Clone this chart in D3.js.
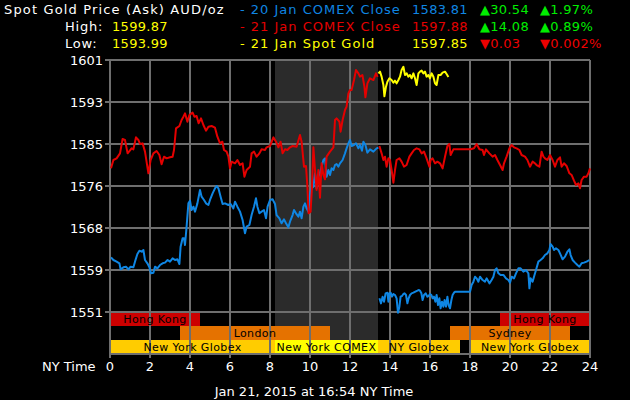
<!DOCTYPE html>
<html><head><meta charset="utf-8">
<script src="https://cdn.jsdelivr.net/npm/d3@7"></script>
<style>
html,body{margin:0;padding:0;background:#000;}
svg{display:block;font-family:"DejaVu Sans",Verdana,sans-serif;}
</style></head>
<body>
<svg id="chart" width="630" height="400"></svg>
<script>
// ---------- DATA ----------
const xTicks = [0,2,4,6,8,10,12,14,16,18,20,22,24];
const yTop = 1601.22, yStepVal = 8.35, yTickCount = 7;
const comexWindow = [8.25, 13.4];

const headerTitle = "Spot Gold Price (Ask) AUD/oz";
const highLow = [["High:", "1599.87"], ["Low:", "1593.99"]];
const legendNames = ["- 20 Jan COMEX Close", "- 21 Jan COMEX Close", "- 21 Jan Spot Gold"];
const legendPrices = ["1583.81", "1597.88", "1597.85"];
const legendChanges = ["30.54", "14.08", "0.03"];
const legendPcts = ["1.97%", "0.89%", "0.002%"];
const legendUp = [true, true, false];

const sessionNames = ["Hong Kong","London","New York Globex","New York COMEX","NY Globex","Sydney","Hong Kong","New York Globex"];
const sessionRows  = [0,1,2,2,2,1,0,2];
const sessionStart = [0,3.5,0,8.25,13.4,17,19.5,18];
const sessionEnd   = [4.5,11,8.25,13.4,17.5,23,24,24];

// 20 Jan COMEX Close (blue), segment before and after the break
const blueA = [[0.05,1561.99],[0.17,1561.46],[0.33,1561.13],[0.47,1560.80],[0.53,1559.60],[0.67,1560.00],[0.80,1560.13],[0.92,1559.60],[1.03,1560.13],[1.17,1560.00],[1.25,1561.13],[1.37,1562.65],[1.47,1563.31],[1.58,1563.11],[1.67,1563.45],[1.75,1561.46],[1.87,1560.80],[1.97,1560.00],[2.05,1558.81],[2.17,1558.94],[2.25,1560.13],[2.37,1559.80],[2.50,1560.46],[2.63,1560.80],[2.75,1560.93],[2.88,1561.46],[3.00,1561.13],[3.13,1561.79],[3.25,1561.46],[3.37,1561.59],[3.47,1560.66],[3.53,1564.11],[3.63,1565.77],[3.70,1565.77],[3.75,1564.44],[3.83,1568.08],[3.92,1572.72],[4.00,1573.25],[4.08,1571.40],[4.17,1572.06],[4.25,1571.07],[4.37,1572.72],[4.50,1575.37],[4.58,1574.05],[4.70,1573.39],[4.80,1572.72],[4.92,1572.39],[5.00,1573.39],[5.13,1574.71],[5.25,1575.71],[5.33,1576.17],[5.42,1575.71],[5.53,1574.05],[5.63,1572.59],[5.75,1572.72],[5.92,1572.39],[6.03,1572.59],[6.17,1571.73],[6.25,1573.06],[6.37,1572.06],[6.50,1571.07],[6.63,1569.41],[6.75,1566.76],[6.83,1568.08],[6.97,1568.42],[7.08,1570.40],[7.20,1572.06],[7.30,1573.72],[7.37,1572.06],[7.47,1570.74],[7.58,1571.07],[7.70,1571.40],[7.80,1569.74],[7.88,1572.06],[8.00,1573.39],[8.13,1573.52],[8.25,1572.59],[8.33,1570.40],[8.47,1569.74],[8.58,1568.75],[8.70,1569.54],[8.80,1568.75],[8.92,1567.95],[9.00,1569.08],[9.13,1570.40],[9.20,1571.40],[9.30,1570.74],[9.42,1570.07],[9.50,1571.07],[9.58,1569.74],[9.67,1572.06],[9.75,1572.72],[9.83,1571.73],[9.92,1571.07],[10.00,1574.71],[10.08,1575.71],[10.17,1576.04],[10.25,1578.69],[10.33,1575.71],[10.42,1578.03],[10.50,1578.69],[10.58,1580.01],[10.67,1581.34],[10.75,1581.67],[10.83,1578.03],[10.92,1579.35],[11.00,1578.36],[11.08,1579.68],[11.17,1579.35],[11.25,1580.34],[11.33,1580.54],[11.42,1580.01],[11.50,1580.68],[11.63,1581.34],[11.75,1582.66],[11.83,1583.66],[11.92,1584.65],[12.00,1585.32],[12.08,1584.12],[12.20,1584.32],[12.30,1584.65],[12.42,1583.66],[12.50,1584.32],[12.60,1583.19],[12.67,1584.98],[12.77,1584.32],[12.87,1582.80],[13.00,1583.46],[13.17,1583.00],[13.33,1583.66],[13.42,1583.81]];
const blueB = [[13.47,1553.84],[13.55,1552.84],[13.63,1554.17],[13.70,1553.17],[13.78,1554.83],[13.87,1554.96],[13.92,1553.17],[13.97,1554.83],[14.03,1554.96],[14.10,1554.17],[14.17,1554.70],[14.25,1554.50],[14.33,1553.84],[14.40,1550.99],[14.47,1552.18],[14.53,1554.17],[14.60,1554.30],[14.67,1554.70],[14.73,1554.83],[14.80,1554.50],[14.87,1552.84],[14.93,1553.84],[15.00,1554.50],[15.08,1554.83],[15.17,1554.96],[15.27,1555.16],[15.37,1555.36],[15.43,1555.49],[15.50,1555.36],[15.57,1554.83],[15.63,1553.51],[15.70,1554.50],[15.78,1554.83],[15.87,1554.17],[15.93,1554.30],[16.00,1554.70],[16.07,1554.50],[16.13,1553.84],[16.20,1554.17],[16.27,1553.17],[16.33,1554.50],[16.40,1552.51],[16.47,1553.84],[16.53,1551.85],[16.60,1553.17],[16.67,1552.18],[16.73,1553.51],[16.80,1552.18],[16.87,1554.17],[16.93,1552.51],[17.00,1551.85],[17.07,1553.51],[17.13,1554.50],[17.20,1554.96],[17.27,1555.16],[18.00,1555.16],[18.08,1556.49],[18.17,1557.15],[18.25,1558.14],[18.33,1557.81],[18.42,1557.15],[18.50,1558.14],[18.63,1557.48],[18.75,1557.15],[18.83,1557.81],[18.97,1556.82],[19.08,1557.48],[19.17,1558.14],[19.25,1559.47],[19.33,1559.80],[19.42,1558.81],[19.53,1558.48],[19.67,1558.48],[19.80,1557.81],[19.92,1557.48],[20.00,1556.95],[20.08,1558.14],[20.20,1557.81],[20.30,1558.81],[20.42,1559.80],[20.53,1559.80],[20.67,1559.14],[20.80,1559.47],[20.92,1558.81],[20.97,1555.83],[21.03,1557.81],[21.13,1557.15],[21.20,1558.14],[21.30,1559.47],[21.42,1561.13],[21.53,1561.46],[21.63,1561.79],[21.75,1562.45],[21.87,1562.78],[21.97,1563.45],[22.03,1564.64],[22.13,1564.11],[22.20,1563.45],[22.30,1563.78],[22.42,1563.45],[22.50,1562.78],[22.63,1561.59],[22.75,1562.12],[22.87,1563.11],[22.97,1563.58],[23.03,1562.45],[23.13,1561.46],[23.25,1560.93],[23.37,1560.46],[23.47,1560.13],[23.58,1560.80],[23.70,1560.93],[23.83,1561.13],[23.97,1561.46]];

// 21 Jan COMEX Close (red)
const redA = [[0.05,1579.68],[0.17,1581.34],[0.33,1581.67],[0.50,1582.66],[0.63,1585.51],[0.75,1585.32],[0.88,1582.66],[1.08,1583.66],[1.17,1583.46],[1.30,1585.85],[1.42,1585.32],[1.50,1584.52],[1.63,1584.65],[1.75,1583.00],[1.92,1578.69],[2.03,1581.34],[2.17,1582.66],[2.33,1583.13],[2.47,1582.33],[2.58,1580.48],[2.70,1582.00],[2.83,1581.67],[3.00,1581.87],[3.13,1582.00],[3.20,1583.33],[3.30,1587.63],[3.47,1588.10],[3.58,1589.29],[3.67,1589.95],[3.75,1590.62],[3.87,1588.96],[3.97,1590.29],[4.13,1590.75],[4.22,1589.95],[4.33,1590.09],[4.43,1588.63],[4.55,1589.62],[4.67,1588.30],[4.80,1587.17],[4.92,1587.97],[5.08,1588.10],[5.25,1587.77],[5.37,1585.98],[5.50,1584.65],[5.62,1584.98],[5.70,1583.33],[5.83,1583.00],[5.92,1582.00],[6.00,1579.68],[6.08,1581.01],[6.25,1580.68],[6.37,1581.34],[6.50,1580.34],[6.63,1580.68],[6.72,1578.03],[6.83,1579.35],[7.00,1580.01],[7.08,1582.66],[7.20,1583.00],[7.33,1582.00],[7.47,1582.66],[7.58,1583.46],[7.75,1583.33],[7.83,1583.86],[8.00,1584.12],[8.17,1585.85],[8.30,1584.98],[8.42,1583.86],[8.53,1584.98],[8.63,1582.66],[8.75,1583.46],[8.87,1583.33],[9.00,1583.86],[9.13,1584.12],[9.33,1583.99],[9.50,1586.31],[9.58,1584.98],[9.70,1580.01],[9.80,1580.15],[9.87,1576.04],[9.93,1570.74],[10.03,1571.07],[10.10,1576.04],[10.17,1583.86],[10.25,1579.35],[10.33,1575.37],[10.42,1579.35],[10.50,1573.85],[10.58,1580.68],[10.67,1578.36],[10.75,1577.50],[10.83,1582.00],[11.00,1583.00],[11.17,1583.86],[11.25,1589.29],[11.33,1589.62],[11.47,1588.96],[11.53,1586.97],[11.63,1589.29],[11.75,1591.28],[11.83,1591.94],[11.92,1594.59],[12.00,1595.26],[12.08,1595.26],[12.20,1597.24],[12.30,1599.23],[12.42,1598.57],[12.50,1597.91],[12.62,1598.24],[12.72,1595.92],[12.77,1593.80],[12.87,1596.58],[13.00,1597.58],[13.17,1597.24],[13.30,1598.57],[13.38,1597.88]];
const redB = [[13.47,1584.12],[13.58,1582.66],[13.67,1581.34],[13.75,1582.00],[13.83,1580.01],[13.92,1581.67],[14.00,1581.34],[14.08,1579.35],[14.17,1576.83],[14.25,1579.35],[14.33,1581.34],[14.47,1581.67],[14.58,1581.01],[14.70,1580.01],[14.83,1580.34],[14.97,1582.00],[15.08,1582.66],[15.20,1583.33],[15.33,1583.66],[15.47,1583.46],[15.58,1582.66],[15.70,1583.00],[15.83,1581.67],[15.97,1580.01],[16.03,1581.34],[16.13,1581.67],[16.25,1580.68],[16.37,1581.01],[16.50,1580.68],[16.63,1579.68],[16.75,1582.00],[16.87,1584.12],[16.97,1584.52],[17.03,1582.33],[17.17,1583.46],[17.58,1583.46],[18.03,1583.46],[18.20,1583.66],[18.33,1584.52],[18.47,1583.46],[18.63,1583.33],[18.70,1582.33],[18.80,1583.46],[18.97,1582.66],[19.13,1582.00],[19.25,1582.33],[19.37,1581.34],[19.50,1580.34],[19.63,1579.35],[19.70,1580.68],[19.83,1582.00],[19.97,1583.66],[20.08,1584.32],[20.20,1583.86],[20.33,1583.66],[20.47,1583.33],[20.58,1582.33],[20.75,1582.00],[20.87,1581.34],[21.00,1580.01],[21.13,1581.01],[21.25,1580.68],[21.33,1580.34],[21.47,1580.01],[21.58,1583.00],[21.67,1582.00],[21.75,1581.67],[21.87,1581.34],[22.00,1582.33],[22.13,1581.34],[22.25,1580.01],[22.37,1581.34],[22.50,1581.87],[22.58,1580.01],[22.70,1580.68],[22.83,1580.15],[22.97,1578.69],[23.08,1578.36],[23.20,1577.23],[23.30,1576.37],[23.42,1576.70],[23.50,1575.71],[23.58,1577.36],[23.70,1578.03],[23.83,1578.03],[23.92,1578.69],[24.00,1579.68]];

// 21 Jan Spot Gold (yellow)
const spot = [[13.42,1598.57],[13.50,1598.90],[13.58,1597.91],[13.67,1596.25],[13.72,1593.99],[13.80,1595.92],[13.87,1596.91],[13.97,1597.58],[14.08,1597.24],[14.17,1596.71],[14.25,1597.11],[14.33,1596.58],[14.42,1597.24],[14.50,1597.91],[14.58,1599.23],[14.67,1599.87],[14.75,1598.24],[14.83,1598.57],[14.92,1597.91],[15.00,1598.24],[15.08,1597.58],[15.17,1598.57],[15.25,1597.58],[15.33,1596.25],[15.42,1598.57],[15.50,1598.90],[15.58,1599.10],[15.67,1598.57],[15.75,1598.90],[15.83,1597.91],[15.92,1598.24],[16.00,1597.58],[16.08,1598.57],[16.17,1597.91],[16.25,1596.58],[16.33,1596.25],[16.42,1598.24],[16.53,1598.24],[16.63,1598.70],[16.75,1598.90],[16.83,1598.44],[16.92,1597.85]];

// ---------- STYLE ----------
const C = {
  bg:"#000", grid:"#6e6e6e", shade:"#2b2b2b", text:"#ffffff",
  blue:"#0f86e3", red:"#e40000", yellow:"#ffff00", green:"#00ee00", downRed:"#ee0000",
  hk:"#cc0000", orange:"#e57200", globex:"#ffcc00", comex:"#ffff00"
};
const sessionColor = {"Hong Kong":C.hk,"London":C.orange,"Sydney":C.orange,"New York Globex":C.globex,"NY Globex":C.globex,"New York COMEX":C.comex};

const svg = d3.select("#chart");
svg.append("rect").attr("width",630).attr("height",400).attr("fill",C.bg);

const x = d3.scaleLinear().domain([0,24]).range([110,590]);
const yTickValues = d3.range(yTickCount).map(i => yTop - i*yStepVal);
const yBottom = yTickValues[yTickValues.length-1];
const y = d3.scaleLinear().domain([yBottom, yTop]).range([312,60]);

const rowTop = [313,326,340], rowBottom = [326,340,354];
const axisY = 354;

// COMEX shading
svg.append("rect")
  .attr("x", x(comexWindow[0])).attr("y", 60)
  .attr("width", x(comexWindow[1]) - x(comexWindow[0])).attr("height", axisY-60)
  .attr("fill", C.shade);

// session bars
const sessions = sessionNames.map((n,i)=>({name:n,row:sessionRows[i],s:sessionStart[i],e:sessionEnd[i]}));
svg.append("g").selectAll("rect").data(sessions).join("rect")
  .attr("x", d=>x(d.s)).attr("y", d=>rowTop[d.row])
  .attr("width", d=>x(d.e)-x(d.s)).attr("height", d=>rowBottom[d.row]-rowTop[d.row])
  .attr("fill", d=>sessionColor[d.name]);

// gridlines
const grid = svg.append("g").attr("stroke", C.grid).attr("stroke-width",1.2).attr("shape-rendering","crispEdges");
grid.selectAll("line.v").data(xTicks).join("line")
  .attr("x1", d=>x(d)).attr("x2", d=>x(d)).attr("y1", 60).attr("y2", axisY+4);
grid.selectAll("line.h").data(yTickValues).join("line")
  .attr("x1", 105).attr("x2", 590).attr("y1", d=>y(d)).attr("y2", d=>y(d));
grid.append("line").attr("x1",110).attr("x2",590).attr("y1",axisY).attr("y2",axisY);

// session labels
svg.append("g").selectAll("text").data(sessions).join("text")
  .attr("x", d=>(x(d.s)+x(d.e))/2).attr("y", d=>rowBottom[d.row]-3)
  .attr("text-anchor","middle").attr("font-size",11).attr("fill","#000")
  .attr("letter-spacing",0.4)
  .text(d=>d.name);

// axis labels
svg.append("g").selectAll("text").data(yTickValues).join("text")
  .attr("x", 103).attr("y", d=>y(d)+5).attr("text-anchor","end")
  .attr("font-size",13).attr("fill",C.text).text(d=>Math.round(d));
svg.append("g").selectAll("text").data(xTicks).join("text")
  .attr("x", d=>x(d)).attr("y", 371).attr("text-anchor","middle")
  .attr("font-size",13).attr("fill",C.text).text(d=>d);
svg.append("text").attr("x",42).attr("y",371).attr("font-size",13).attr("fill",C.text).text("NY Time");
svg.append("text").attr("x",314).attr("y",396).attr("text-anchor","middle").attr("font-size",13).attr("fill",C.text)
  .text("Jan 21, 2015 at 16:54 NY Time");

// price lines
const line = d3.line().x(d=>x(d[0])).y(d=>y(d[1]));
const lines = svg.append("g").attr("fill","none").attr("stroke-width",2).attr("stroke-linejoin","round");
[[blueA,C.blue],[blueB,C.blue],[redA,C.red],[redB,C.red],[spot,C.yellow]].forEach(([data,col])=>{
  lines.append("path").attr("d", line(data)).attr("stroke", col);
});

// header
const hdr = svg.append("g").attr("font-size",13);
hdr.append("text").attr("x",4).attr("y",14).attr("fill",C.text).attr("letter-spacing",1.15).text(headerTitle);
highLow.forEach((r,i)=>{
  hdr.append("text").attr("x",65).attr("y",31+17*i).attr("fill",C.text).attr("letter-spacing",0.8).text(r[0]);
  hdr.append("text").attr("x",112).attr("y",31+17*i).attr("fill",C.yellow).attr("letter-spacing",0.3).text(r[1]);
});
const legCol = [C.blue, C.red, C.yellow];
legendNames.forEach((n,i)=>{
  const yy = 14 + 17*i;
  hdr.append("text").attr("x",240).attr("y",yy).attr("fill",legCol[i]).attr("letter-spacing",1).text(n);
  hdr.append("text").attr("x",412).attr("y",yy).attr("fill",legCol[i]).attr("letter-spacing",0.3).text(legendPrices[i]);
  const cc = legendUp[i] ? C.green : C.downRed;
  const arrow = legendUp[i] ? "\u25B2" : "\u25BC";
  hdr.append("text").attr("x",480).attr("y",yy).attr("fill",cc).attr("letter-spacing",0.3).text(arrow + legendChanges[i]);
  hdr.append("text").attr("x",540).attr("y",yy).attr("fill",cc).attr("letter-spacing",0.3).text(arrow + legendPcts[i]);
});
</script>
</body></html>
